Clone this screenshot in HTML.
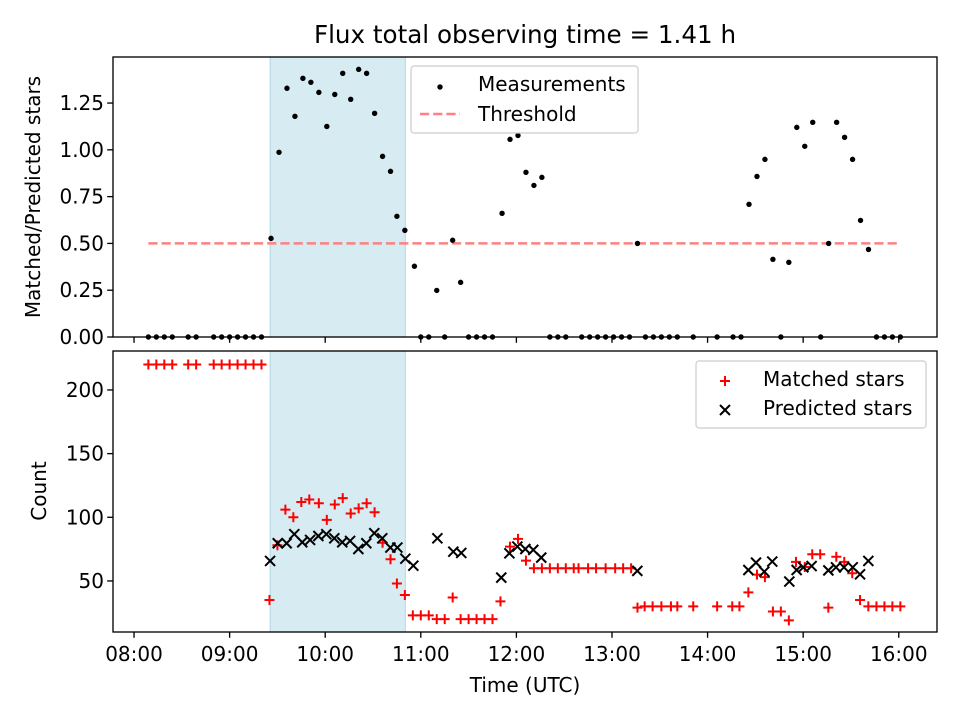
<!DOCTYPE html>
<html><head><meta charset="utf-8"><style>
body{margin:0;background:#fff}
svg{display:block;font-family:"DejaVu Sans","Liberation Sans",sans-serif}
</style></head><body>
<svg id="chart" width="960" height="720" viewBox="0 0 960 720" xmlns="http://www.w3.org/2000/svg">
<rect width="960" height="720" fill="#fff"/>
<text x="525" y="43" text-anchor="middle" font-size="24.6">Flux total observing time = 1.41 h</text>
<g id="top"></g>
<g id="bot"></g>
<text x="525" y="692" text-anchor="middle" font-size="20">Time (UTC)</text>
<text transform="translate(40,197) rotate(-90)" text-anchor="middle" font-size="20">Matched/Predicted stars</text>
<text transform="translate(46,491) rotate(-90)" text-anchor="middle" font-size="20">Count</text>
</svg>
<script>
// minutes since 08:00 UTC
const ratioTimes=[9,14,19,24,34,39,50,55,60,65,70,75,80,86,91,96,101,106,111,116,121,126,131,136,141,146,151,156,161,165,170,176,180,185,190,195,200,205,210,215,220,225,231,236,241,246,251,256,261,266,271,281,286,291,296,301,306,311,316,321,326,331,336,341,351,366,376,381,386,391,396,401,406,411,416,421,426,431,436,441,446,451,456,461,466,471,476,481];
const ratios=[0,0,0,0,0,0,0,0,0,0,0,0,0,0.527,0.987,1.329,1.179,1.382,1.361,1.307,1.125,1.296,1.409,1.270,1.430,1.409,1.195,0.965,0.885,0.645,0.570,0.378,0,0,0.249,0,0.517,0.292,0,0,0,0,0.661,1.056,1.077,0.880,0.810,0.853,0,0,0,0,0,0,0,0,0,0,0.500,0,0,0,0,0,0,0,0,0,0.709,0.858,0.949,0.415,0,0.399,1.120,1.019,1.147,0,0.500,1.147,1.067,0.949,0.623,0.468,0,0,0,0];
const matchedTimes=[9,14,19,24,34,39,50,55,60,65,70,75,80,85,90,95,100,105,110,116,121,126,131,136,141,146,151,156,161,165,170,175,180,185,190,195,200,205,210,215,220,225,230,236,241,246,251,256,261,266,271,276,279,285,290,296,302,307,312,316,320.5,325.5,331,337,341,351,366,375.5,380,385.6,391,396,401,406,411,415.5,421,425.7,430.7,435.8,440.8,445.8,450.8,455.7,460.9,466,471,476,481];
const matched=[220,220,220,220,220,220,220,220,220,220,220,220,220,35,78,106,100,112,114,111,98,110,115,103,107,111,104,80,67,48,39,23,23,23,20,20,37,20,20,20,20,20,34,77,83,66,60,60,60,60,60,60,60,60,60,60,60,60,60,29,30,30,30,30,30,30,30,30,30,41,55,53,26,26,19,65,61,71,71,29,69,65,56,35,30,30,30,30,30];
const predictedTimes=[85.4,90.2,95.8,100.6,105.6,110.5,115.7,120.7,125.7,130.7,135.6,140.8,145.8,150.8,155.8,160.9,165.3,170.3,175.3,190.4,200.4,205.4,230.5,235.6,240.6,245.6,250.6,255.6,315.9,385.6,390.4,395.6,400.6,411.3,415.9,420.1,425.3,435.8,440.6,445.6,451.1,455.7,460.9];
const predicted=[65.7,79.6,79.6,86.7,80.4,82.2,85.3,86.7,83.5,80.4,81.4,75.1,79.6,87.5,83.5,76.2,76.2,67.5,62,83.5,73,72,52.6,71.7,77,75.1,74.4,68.3,57.9,58.6,64.4,57.3,65.2,49.5,58.6,60.7,61.7,58.3,60.7,60.7,60.7,55.2,65.7];
const threshold=0.5;
const thresholdStart=9, thresholdEnd=481;
const spanStart=85.4, spanEnd=170.3;
const xTickLabels=["08:00","09:00","10:00","11:00","12:00","13:00","14:00","15:00","16:00"];
const topYTicks=[0,0.25,0.5,0.75,1.0,1.25];
const botYTicks=[50,100,150,200];

const NS="http://www.w3.org/2000/svg";
function mk(parent,tag,attrs){const e=document.createElementNS(NS,tag);for(const k in attrs)e.setAttribute(k,attrs[k]);parent.appendChild(e);return e;}
const L=113,R=937;
const xMin=-13.2,xMax=504;
const X=m=>L+(m-xMin)/(xMax-xMin)*(R-L);
const topP={t:57,b:337,min:0,max:1.496};
const botP={t:351,b:632,min:9.9,max:230.6};
const Y=(p,v)=>p.b-(v-p.min)/(p.max-p.min)*(p.b-p.t);
const FS=20;

function frame(g,p,labels,yt,fmt){
  const s=mk(g,'rect',{x:X(spanStart),y:p.t,width:X(spanEnd)-X(spanStart),height:p.b-p.t,fill:'#add8e6','fill-opacity':0.5,stroke:'#8cc4d6','stroke-opacity':0.6,'stroke-width':1});
  
  
  xTickLabels.forEach((lab,i)=>{
    const x=X(i*60);
    const t=mk(g,'line',{x1:x,x2:x,y1:p.b,y2:p.b+5.8,stroke:'#000','stroke-width':1.33});
    
    
    if(labels){const tx=mk(g,'text',{x:x,y:p.b+29,'text-anchor':'middle','font-size':FS});tx.textContent=lab;
      
      }
  });
  yt.forEach(v=>{
    const y=Y(p,v);
    const t=mk(g,'line',{x1:L-5.8,x2:L,y1:y,y2:y,stroke:'#000','stroke-width':1.33});
    
    
    const tx=mk(g,'text',{x:L-9,y:y+7,'text-anchor':'end','font-size':FS});tx.textContent=fmt(v);
    
    
  });
}
function border(g,p){const b=mk(g,'rect',{x:L,y:p.t,width:R-L,height:p.b-p.t,fill:'none',stroke:'#000','stroke-width':1.33});
  
  }

// top panel
const gt=document.getElementById('top');
frame(gt,topP,false,topYTicks,v=>v.toFixed(2));
const th=mk(gt,'line',{x1:X(thresholdStart),x2:X(thresholdEnd),y1:Y(topP,threshold),y2:Y(topP,threshold),stroke:'#ff8080','stroke-width':2.5,'stroke-dasharray':'9.2,4'});


ratioTimes.forEach((m,i)=>{
  const c=mk(gt,'circle',{cx:X(m),cy:Y(topP,ratios[i]),r:2.7,fill:'#000'});
  
  
});
border(gt,topP);
// top legend
const lg=mk(gt,'g',{});


mk(lg,'rect',{x:411,y:66,width:227,height:67,rx:3,fill:'#fff','fill-opacity':0.8,stroke:'#ccc','stroke-width':1.2});
mk(lg,'circle',{cx:440,cy:87,r:2.7,fill:'#000'});
mk(lg,'line',{x1:420,x2:460,y1:114,y2:114,stroke:'#ff8080','stroke-width':2.5,'stroke-dasharray':'9.2,4'});
let t1=mk(lg,'text',{x:478,y:91,'font-size':FS});t1.textContent='Measurements';


let t2=mk(lg,'text',{x:478,y:121,'font-size':FS});t2.textContent='Threshold';



// bottom panel
const gb=document.getElementById('bot');
frame(gb,botP,true,botYTicks,v=>String(v));
function plus(g,x,y,s){const p=mk(g,'path',{d:`M${x-s},${y}H${x+s}M${x},${y-s}V${y+s}`,stroke:'#ff0000','stroke-width':2,fill:'none'});return p;}
function cross(g,x,y,s){const p=mk(g,'path',{d:`M${x-s},${y-s}L${x+s},${y+s}M${x-s},${y+s}L${x+s},${y-s}`,stroke:'#000','stroke-width':2,fill:'none'});return p;}
matchedTimes.forEach((m,i)=>{
  const p=plus(gb,X(m),Y(botP,matched[i]),5);
  
  
});
predictedTimes.forEach((m,i)=>{
  const p=cross(gb,X(m),Y(botP,predicted[i]),5);
  
  
});
border(gb,botP);
const lb=mk(gb,'g',{});


mk(lb,'rect',{x:696,y:361,width:230,height:67,rx:3,fill:'#fff','fill-opacity':0.8,stroke:'#ccc','stroke-width':1.2});
plus(lb,725,381,5);
cross(lb,725,410,5);
let t3=mk(lb,'text',{x:763,y:386,'font-size':FS});t3.textContent='Matched stars';


let t4=mk(lb,'text',{x:763,y:415,'font-size':FS});t4.textContent='Predicted stars';


</script>
</body></html>
